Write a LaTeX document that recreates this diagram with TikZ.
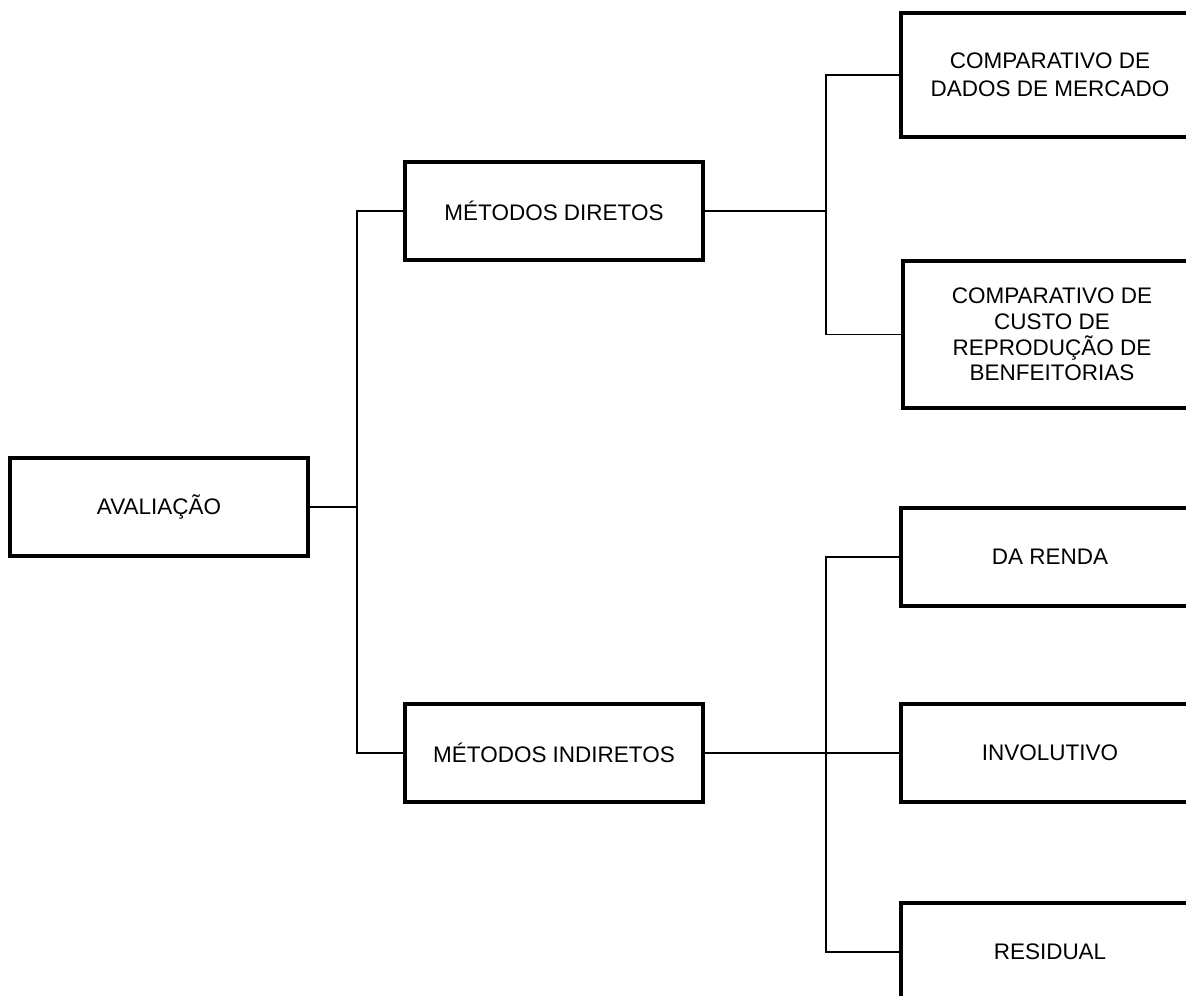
\documentclass[tikz,border=0pt]{standalone}
\usepackage{fontspec}
\setmainfont{Liberation Sans}
\begin{document}
\begin{tikzpicture}[x=0.02cm,y=-0.02cm,
  box/.style={draw,line width=2pt,minimum width=5.96cm,minimum height=1.96cm,inner sep=0pt,align=center,font=\fontsize{12.8}{14.6}\selectfont},
  conn/.style={line width=0.6pt}]
\useasboundingbox (0,0) rectangle (1186,995);
\clip (0,0) rectangle (1186,995);
\node[box] (aval) at (159,507) {AVALIAÇÃO};
\node[box] (md) at (554,211) {MÉTODOS DIRETOS};
\node[box] (mi) at (554,753) {MÉTODOS INDIRETOS};
\node[box,minimum height=2.48cm,font=\fontsize{12.8}{16}\selectfont] (c1) at (1050,75) {COMPARATIVO DE\\DADOS DE MERCADO};
\node[box,minimum height=2.94cm] (c2) at (1052,334.5) {COMPARATIVO DE\\CUSTO DE\\REPRODUÇÃO DE\\BENFEITORIAS};
\node[box] (renda) at (1050,557) {DA RENDA};
\node[box] (inv) at (1050,753) {INVOLUTIVO};
\node[box] (resid) at (1050,952) {RESIDUAL};
\coordinate (j1) at (357,507);
\coordinate (j2) at (826,211);
\coordinate (j3) at (826,753);
\draw[conn] (aval.east) -- (j1);
\draw[conn] (j1) |- (md.west);
\draw[conn] (j1) |- (mi.west);
\draw[conn] (md.east) -- (j2);
\draw[conn] (j2) |- (c1.west);
\draw[conn] (j2) |- (c2.west);
\draw[conn] (mi.east) -- (inv.west);
\draw[conn] (j3) |- (renda.west);
\draw[conn] (j3) |- (resid.west);
\end{tikzpicture}
\end{document}
